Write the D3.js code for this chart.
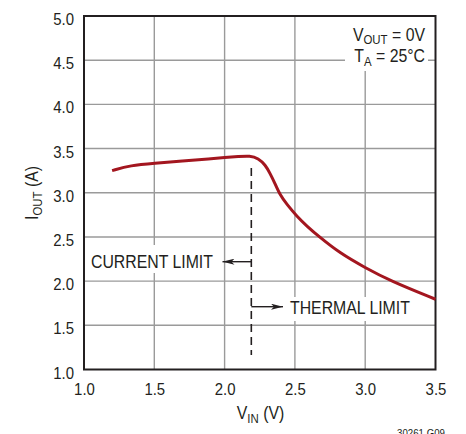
<!DOCTYPE html>
<html><head><meta charset="utf-8">
<script src="https://cdn.jsdelivr.net/npm/d3@7/dist/d3.min.js"></script>
<style>
body{margin:0;background:#fff;}
text{font-family:"Liberation Sans",Arial,sans-serif;fill:#231f20;}
</style></head><body>
<svg id="c" width="466" height="434"></svg>
<script>
const xTicks = [1.0, 1.5, 2.0, 2.5, 3.0, 3.5];
const yTicks = [1.0, 1.5, 2.0, 2.5, 3.0, 3.5, 4.0, 4.5, 5.0];
const vin  = [1.2, 1.33, 1.5, 1.7, 1.9, 2.0, 2.1, 2.18, 2.24, 2.29, 2.323, 2.358, 2.394, 2.442, 2.513, 2.59, 2.667, 2.821, 3.0, 3.176, 3.5];
const iout = [3.25, 3.31, 3.335, 3.36, 3.385, 3.398, 3.41, 3.42, 3.39, 3.314, 3.22, 3.107, 2.975, 2.87, 2.735, 2.615, 2.51, 2.315, 2.152, 2.005, 1.795];
const limitV = 2.19;
const SX = 0.88;

const svg = d3.select("#c");
const x = d3.scaleLinear().domain([1, 3.5]).range([84, 435.5]);
const y = d3.scaleLinear().domain([1, 5]).range([369.5, 16]);

function label(px, py, anchor, size) {
  return svg.append("text").attr("transform", `translate(${px},${py}) scale(${SX},1)`)
    .attr("text-anchor", anchor).style("font-size", size + "px");
}
function sub(t, main, s, subSize, rest, off) {
  t.append("tspan").text(main);
  t.append("tspan").text(s).style("font-size", subSize + "px").attr("dy", off);
  t.append("tspan").text(rest).attr("dy", -off);
  return t;
}

// grid
const g = svg.append("g");
g.selectAll(".vg").data(xTicks.slice(1, -1)).enter().append("line")
  .attr("x1", d => x(d)).attr("x2", d => x(d)).attr("y1", y(5)).attr("y2", y(1))
  .attr("stroke", "#9a9a9a").attr("stroke-width", 1.4);
g.selectAll(".hg").data(yTicks.slice(1, -1)).enter().append("line")
  .attr("x1", x(1)).attr("x2", x(3.5)).attr("y1", d => y(d)).attr("y2", d => y(d))
  .attr("stroke", "#9a9a9a").attr("stroke-width", 1.4);

// white label backgrounds
const boxes = [[345, 17, 83, 54], [86, 245, 132, 28], [286, 297, 128, 24]];
svg.selectAll(".bx").data(boxes).enter().append("rect")
  .attr("x", d => d[0]).attr("y", d => d[1]).attr("width", d => d[2]).attr("height", d => d[3])
  .attr("fill", "#fff");

// frame
svg.append("rect").attr("x", x(1)).attr("y", y(5)).attr("width", x(3.5) - x(1)).attr("height", y(1) - y(5))
  .attr("fill", "none").attr("stroke", "#231f20").attr("stroke-width", 2);

// axis tick labels
const xa = d3.axisBottom(x).tickValues(xTicks).tickFormat(d3.format(".1f")).tickSize(0).tickPadding(0);
const xg = svg.append("g").attr("transform", `translate(0,${y(1)})`).call(xa);
xg.select(".domain").remove();
xg.selectAll("text").attr("y", 0).attr("dy", 0).attr("transform", `translate(0,25) scale(${SX},1)`)
  .style("font-size", "17px").attr("fill", "#231f20").style("font-family", "'Liberation Sans',Arial,sans-serif");

const ya = d3.axisLeft(y).tickValues(yTicks).tickFormat(d3.format(".1f")).tickSize(0).tickPadding(0);
const yg = svg.append("g").attr("transform", `translate(${x(1)},0)`).call(ya);
yg.select(".domain").remove();
yg.selectAll("text").attr("x", 0).attr("dy", "0.5em").attr("transform", `translate(-10,0) scale(${SX},1)`)
  .style("font-size", "17px").attr("fill", "#231f20").style("font-family", "'Liberation Sans',Arial,sans-serif");

// axis titles
const yt = svg.append("text").attr("transform", `translate(38,193) rotate(-90) scale(${SX},1)`)
  .attr("text-anchor", "middle").style("font-size", "18px");
sub(yt, "I", "OUT", 13, " (A)", 4);
sub(label(260.5, 419, "middle", 18), "V", "IN", 13, " (V)", 4);

label(445, 437, "end", 11).text("30261 G09");

// conditions
sub(label(425, 41, "end", 18), "V", "OUT", 13, " = 0V", 3);
sub(label(425, 62, "end", 18), "T", "A", 13, " = 25°C", 4);

// dashed limit line
svg.append("line").attr("x1", x(limitV)).attr("x2", x(limitV)).attr("y1", 168).attr("y2", 355)
  .attr("stroke", "#231f20").attr("stroke-width", 1.6).attr("stroke-dasharray", "8,5");

// arrows
const defs = svg.append("defs");
defs.append("marker").attr("id", "ah").attr("viewBox", "0 0 12 6").attr("refX", 12).attr("refY", 3)
  .attr("markerWidth", 12).attr("markerHeight", 6).attr("markerUnits", "userSpaceOnUse").attr("orient", "auto")
  .append("path").attr("d", "M0,0 L12,3 L0,6 L3,3 Z").attr("fill", "#231f20");

svg.append("line").attr("x1", x(limitV)).attr("x2", 222.5).attr("y1", 261.7).attr("y2", 261.7)
  .attr("stroke", "#231f20").attr("stroke-width", 1.4).attr("marker-end", "url(#ah)");
svg.append("line").attr("x1", x(limitV)).attr("x2", 283).attr("y1", 306.7).attr("y2", 306.7)
  .attr("stroke", "#231f20").attr("stroke-width", 1.4).attr("marker-end", "url(#ah)");

label(91, 267.5, "start", 18).text("CURRENT LIMIT");
label(290, 314, "start", 18).text("THERMAL LIMIT");

// curve
const line = d3.line().x((d, i) => x(vin[i])).y(d => y(d)).curve(d3.curveBasis);
svg.append("path").attr("d", line(iout)).attr("fill", "none")
  .attr("stroke", "#a3161f").attr("stroke-width", 3).attr("stroke-linecap", "butt");
</script>
</body></html>
